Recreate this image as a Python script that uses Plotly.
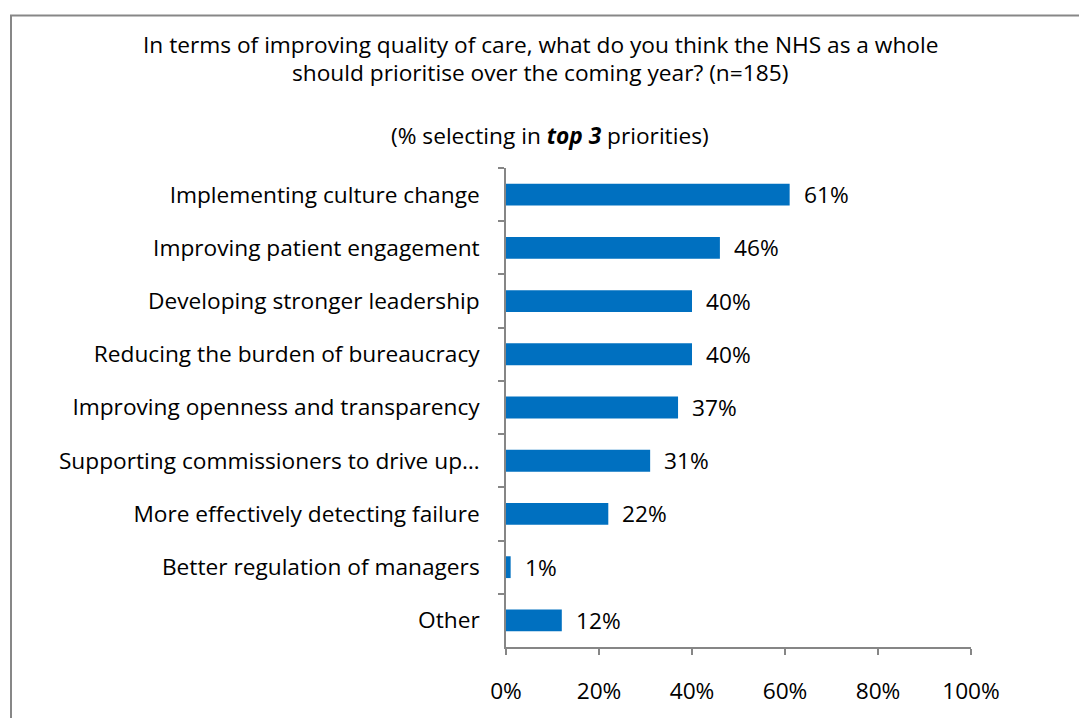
import plotly.graph_objects as go

categories = [
    "Implementing culture change",
    "Improving patient engagement",
    "Developing stronger leadership",
    "Reducing the burden of bureaucracy",
    "Improving openness and transparency",
    "Supporting commissioners to drive up…",
    "More effectively detecting failure",
    "Better regulation of managers",
    "Other",
]
values = [61, 46, 40, 40, 37, 31, 22, 1, 12]
x_ticks = [0, 20, 40, 60, 80, 100]
x_tick_labels = ["0%", "20%", "40%", "60%", "80%", "100%"]

W, H = 1079, 718
L, R, T, B = 506, 108, 168, 66
pw, ph = W - L - R, H - T - B

def px_x(x):
    return (x - L) / pw

def px_y(y):
    return (H - B - y) / ph

FONT = "Open Sans, sans-serif"
FS = 22.7
AXIS = "#868686"
BLUE = "#0070C0"

fig = go.Figure(go.Bar(
    x=values, y=categories, orientation="h",
    marker=dict(color=BLUE, line=dict(width=0)),
    width=0.41, hoverinfo="skip",
))

annotations = []
for c, v in zip(categories, values):
    annotations.append(dict(
        x=v, y=c, xref="x", yref="y", text=f"{v}%", showarrow=False,
        xanchor="left", xshift=12, font=dict(family=FONT, size=FS, color="#000"),
    ))

annotations += [
    dict(x=px_x(540), y=px_y(43), xref="paper", yref="paper", showarrow=False,
         text="In terms of improving quality of care, what do you think the NHS as a whole",
         xanchor="center", yanchor="middle", font=dict(family=FONT, size=FS, color="#000")),
    dict(x=px_x(540), y=px_y(71), xref="paper", yref="paper", showarrow=False,
         text="should prioritise over the coming year? (n=185)",
         xanchor="center", yanchor="middle", font=dict(family=FONT, size=FS, color="#000")),
    dict(x=px_x(550), y=px_y(135), xref="paper", yref="paper", showarrow=False,
         text="(% selecting in <b><i>top 3</i></b> priorities)",
         xanchor="center", yanchor="middle", font=dict(family=FONT, size=FS, color="#000")),
]

fig.update_layout(
    width=W, height=H,
    margin=dict(l=L, r=R, t=T, b=B, pad=0),
    paper_bgcolor="white", plot_bgcolor="white",
    showlegend=False,
    annotations=annotations,
    shapes=[dict(type="rect", xref="paper", yref="paper",
                 x0=px_x(11), x1=px_x(W + 20), y0=px_y(H + 20), y1=px_y(14),
                 line=dict(color="#878787", width=2), fillcolor="rgba(0,0,0,0)",
                 layer="below")],
    xaxis=dict(
        range=[0, 100], tickvals=x_ticks, ticktext=x_tick_labels,
        showgrid=False, zeroline=False,
        showline=True, linecolor=AXIS, linewidth=1.5,
        ticks="outside", ticklen=6, tickcolor=AXIS, tickwidth=1.5,
        tickfont=dict(family=FONT, size=FS, color="#000"),
        ticklabelstandoff=17,
    ),
    yaxis=dict(
        categoryorder="array", categoryarray=categories, autorange="reversed",
        showgrid=False, zeroline=False,
        showline=True, linecolor=AXIS, linewidth=1.5,
        ticks="outside", ticklen=6, tickcolor=AXIS, tickwidth=1.5,
        tickson="boundaries",
        tickfont=dict(family=FONT, size=FS, color="#000"),
        ticklabelstandoff=20,
    ),
)

fig.write_html("out.html")
